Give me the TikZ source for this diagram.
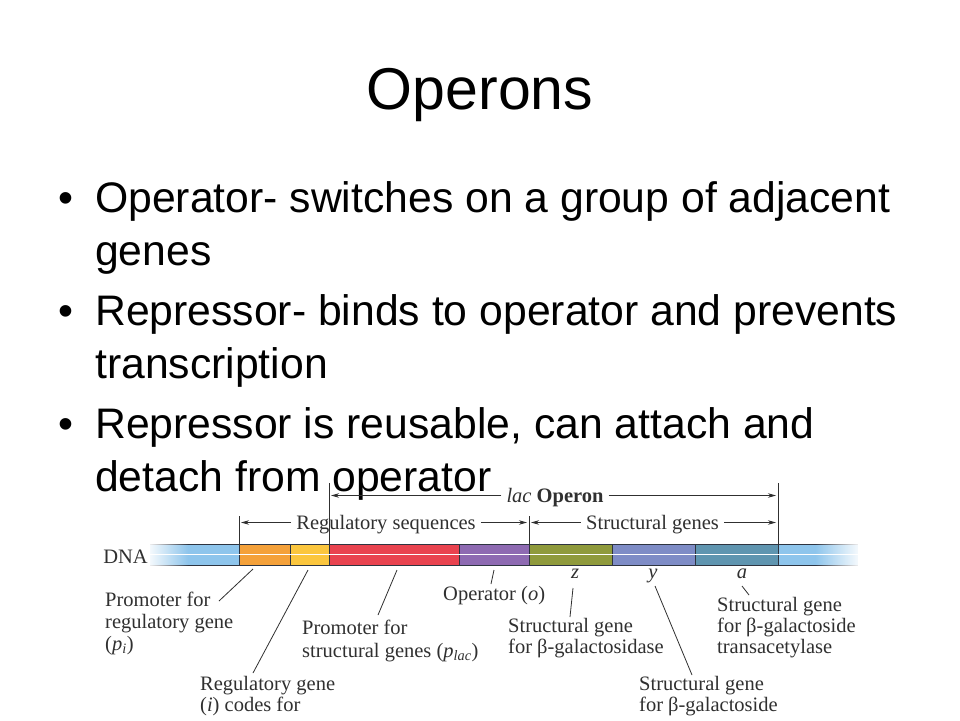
\documentclass[tikz,border=0pt]{standalone}
\usepackage{fontspec}
\setmainfont{Liberation Sans}
\newfontfamily\labfont{Liberation Serif}
\usetikzlibrary{arrows.meta,fadings}
\tikzfading[name=fadeleft, left color=transparent!0, right color=transparent!100]
\tikzfading[name=faderight, left color=transparent!100, right color=transparent!0]
\definecolor{dnablue}{HTML}{8EC5EC}
\definecolor{segorange}{HTML}{F4A13A}
\definecolor{segyellow}{HTML}{FBC63E}
\definecolor{segred}{HTML}{E9434F}
\definecolor{segpurple}{HTML}{8E6AB2}
\definecolor{segolive}{HTML}{8F9A3C}
\definecolor{segblue}{HTML}{7E8CC6}
\definecolor{segteal}{HTML}{5F95B0}
\definecolor{edge}{HTML}{2E3440}
\definecolor{ink}{HTML}{303030}
\tikzset{
  titletext/.style={font=\fontsize{59}{65}\selectfont, anchor=base, inner sep=0pt},
  bullettext/.style={font=\fontsize{42.7}{53}\selectfont, anchor=base west, inner sep=0pt},
  bulletdot/.style={font=\fontsize{42.7}{53}\selectfont, anchor=base, inner sep=0pt},
  lab/.style={font=\labfont\fontsize{20.5}{21}\selectfont, anchor=base west, inner sep=0pt, text=ink},
  labc/.style={font=\labfont\fontsize{20.5}{21}\selectfont, anchor=base, inner sep=0pt, text=ink},
  seg/.style={draw=edge, line width=0.9pt},
  leader/.style={draw=ink, line width=0.8pt},
  tick/.style={draw=ink, line width=0.8pt},
  dimarrow/.style={draw=ink, line width=0.8pt, -{Stealth[length=8pt,width=4.5pt]}},
}
\begin{document}
\begin{tikzpicture}[x=1pt,y=-1pt]
\useasboundingbox (0,0) rectangle (960,720);
\fill[white] (0,0) rectangle (960,720);

% Title
\node[titletext] (title) at (480,109) {Operons};

% Bullets
\node[bulletdot] (b1) at (66,212) {\textbullet};
\node[bullettext] (t1a) at (95,212) {Operator- switches on a group of adjacent};
\node[bullettext] (t1b) at (95,265) {genes};
\node[bulletdot] (b2) at (66,325) {\textbullet};
\node[bullettext] (t2a) at (95,325) {Repressor- binds to operator and prevents};
\node[bullettext] (t2b) at (95,378) {transcription};
\node[bulletdot] (b3) at (66,438) {\textbullet};
\node[bullettext] (t3a) at (95,438) {Repressor is reusable, can attach and};
\node[bullettext] (t3b) at (95,491) {detach from operator};

% DNA bar
\def\yt{544.5}\def\yb{565.5}
\fill[dnablue] (150,\yt) rectangle (239,\yb);
\fill[segorange] (239,\yt) rectangle (290,\yb);
\fill[segyellow] (290,\yt) rectangle (329,\yb);
\fill[segred] (329,\yt) rectangle (459,\yb);
\fill[segpurple] (459,\yt) rectangle (529,\yb);
\fill[segolive] (529,\yt) rectangle (612,\yb);
\fill[segblue] (612,\yt) rectangle (695,\yb);
\fill[segteal] (695,\yt) rectangle (778,\yb);
\fill[dnablue] (778,\yt) rectangle (858,\yb);
\draw[seg] (150,\yt) -- (858,\yt);
\draw[seg] (150,\yb) -- (858,\yb);
\foreach \xx in {239,290,329,459,529,612,695,778}{
  \draw[seg] (\xx,\yt) -- (\xx,\yb);
}
\draw[white, line width=1.3pt] (150,554.8) -- (858,554.8);
% fades at both ends
\fill[white, path fading=fadeleft] (146,\yt-1.5) rectangle (188,\yb+1.5);
\fill[white, path fading=faderight] (815,\yt-1.5) rectangle (862,\yb+1.5);
\node[labc] (dna) at (125.5,563) {DNA};

% Ticks
\coordinate (k1t) at (239,516); \coordinate (k1b) at (239,544.5);
\coordinate (k2t) at (329,483); \coordinate (k2b) at (329,544.5);
\coordinate (k3t) at (529,516); \coordinate (k3b) at (529,544.5);
\coordinate (k4t) at (778,483); \coordinate (k4b) at (778,544.5);
\draw[tick] (k1t) -- (k1b);
\draw[tick] (k2t) -- (k2b);
\draw[tick] (k3t) -- (k3b);
\draw[tick] (k4t) -- (k4b);

% Dimension labels and arrows
\node[labc] (lacop) at (555,502) {\textit{lac} \textbf{Operon}};
\coordinate (lacL) at (331,495.5); \coordinate (lacR) at (776,495.5);
\draw[dimarrow] (lacop.west |- lacL) ++(-5,0) coordinate (lacLs) -- (lacL);
\draw[dimarrow] (lacop.east |- lacR) ++(5,0) coordinate (lacRs) -- (lacR);

\node[labc] (regseq) at (386,529) {Regulatory sequences};
\coordinate (rsL) at (241,522.5); \coordinate (rsR) at (527,522.5);
\draw[dimarrow] (regseq.west |- rsL) ++(-5,0) -- (rsL);
\draw[dimarrow] (regseq.east |- rsR) ++(5,0) -- (rsR);

\node[labc] (strg) at (652.5,529) {Structural genes};
\coordinate (sgL) at (531,522.5); \coordinate (sgR) at (776,522.5);
\draw[dimarrow] (strg.west |- sgL) ++(-5,0) -- (sgL);
\draw[dimarrow] (strg.east |- sgR) ++(5,0) -- (sgR);

% Gene letters
\node[labc] (gz) at (575,578) {\textit{z}};
\node[labc] (gy) at (653,578) {\textit{y}};
\node[labc] (ga) at (742,578) {\textit{a}};

% Labels
\node[lab] (pri1) at (105,606) {Promoter for};
\node[lab] (pri2) at (105,628) {regulatory gene};
\node[lab] (pri3) at (105,650) {(\textit{p}\textsubscript{\textit{i}})};

\node[lab] (reg1) at (200,690) {Regulatory gene};
\node[lab] (reg2) at (200,711) {(\textit{i}) codes for};

\node[lab] (psg1) at (302,634) {Promoter for};
\node[lab] (psg2) at (302,657) {structural genes (\textit{p}\textsubscript{\textit{lac}})};

\node[lab] (oper) at (443,600) {Operator (\textit{o})};

\node[lab] (sz1) at (508,632) {Structural gene};
\node[lab] (sz2) at (508,653) {for β-galactosidase};

\node[lab] (sy1) at (639,690) {Structural gene};
\node[lab] (sy2) at (639,711) {for β-galactoside};

\node[lab] (sa1) at (717,611) {Structural gene};
\node[lab] (sa2) at (717,632) {for β-galactoside};
\node[lab] (sa3) at (717,653) {transacetylase};

% Leader lines
\coordinate (lo1) at (253,569); \coordinate (lo2) at (219,601);
\draw[leader] (lo1) -- (lo2);
\coordinate (ly1) at (308,570); \coordinate (ly2) at (253,673);
\draw[leader] (ly1) -- (ly2);
\coordinate (lr1) at (397,570); \coordinate (lr2) at (378,615);
\draw[leader] (lr1) -- (lr2);
\coordinate (lp1) at (494,570); \coordinate (lp2) at (491,584);
\draw[leader] (lp1) -- (lp2);
\coordinate (lz1) at (573,588); \coordinate (lz2) at (570,617);
\draw[leader] (lz1) -- (lz2);
\coordinate (lyy1) at (655,586); \coordinate (lyy2) at (692,675);
\draw[leader] (lyy1) -- (lyy2);
\coordinate (la1) at (742,586); \coordinate (la2) at (749,595);
\draw[leader] (la1) -- (la2);
\end{tikzpicture}
\end{document}
